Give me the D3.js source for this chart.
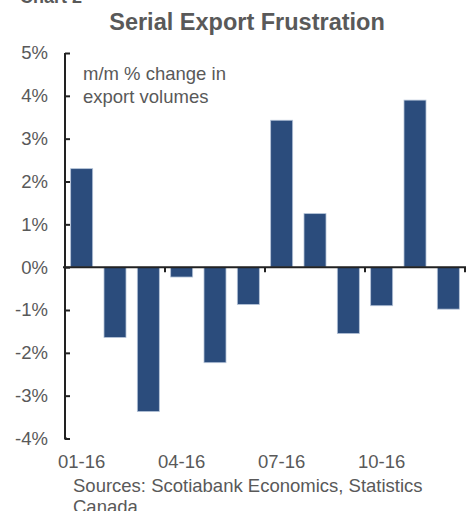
<!DOCTYPE html>
<html>
<head>
<meta charset="utf-8">
<script src="https://cdn.jsdelivr.net/npm/d3@7"></script>
<style>
  body { margin: 0; background: #fff; }
  text { font-family: "Liberation Sans", Arial, sans-serif; fill: #595959; }
</style>
</head>
<body>
<svg width="473" height="511"></svg>
<script>
// monthly data, 2016
var months = ["01-16","02-16","03-16","04-16","05-16","06-16","07-16","08-16","09-16","10-16","11-16","12-16"];
var values = [2.30, -1.64, -3.37, -0.23, -2.23, -0.87, 3.43, 1.25, -1.55, -0.90, 3.90, -0.98];
var yTicks = [-4, -3, -2, -1, 0, 1, 2, 3, 4, 5];
var xLabels = ["01-16", "04-16", "07-16", "10-16"];

var svg = d3.select("svg"),
    margin = {top: 53, right: 8, bottom: 73, left: 65},
    width = 465 - margin.left,
    height = 438.5 - margin.top;

var x = d3.scaleBand().domain(months).range([0, width]).paddingInner(0.34).paddingOuter(0.17),
    y = d3.scaleLinear().domain([-4, 5]).range([height, 0]);

var g = svg.append("g")
    .attr("transform", "translate(" + margin.left + "," + margin.top + ")");

// bars
g.selectAll(".bar")
  .data(values)
  .enter().append("rect")
    .attr("class", "bar")
    .attr("x", function(d, i) { return x(months[i]); })
    .attr("width", x.bandwidth())
    .attr("y", function(d) { return y(Math.max(0, d)); })
    .attr("height", function(d) { return Math.abs(y(d) - y(0)); })
    .style("fill", "#2b4c7c")
    .style("stroke", "#b4c3d8")
    .style("stroke-width", 0.8);

// y axis, ticks inside
var yAxis = g.append("g")
    .call(d3.axisRight(y).tickValues(yTicks).tickSize(5).tickFormat(""));
yAxis.select(".domain").attr("d", "M0," + y(5) + "V" + y(-4) + "h2").style("stroke", "#222").style("stroke-width", 2);
yAxis.selectAll(".tick line").style("stroke", "#222").style("stroke-width", 2);

g.selectAll(".ylab")
  .data(yTicks)
  .enter().append("text")
    .attr("class", "ylab")
    .attr("x", -17)
    .attr("y", function(d) { return y(d); })
    .attr("dy", "0.35em")
    .attr("text-anchor", "end")
    .style("font-size", "18.5px")
    .text(function(d) { return d + "%"; });

// x axis at zero, ticks at quarter boundaries
var boundaries = [0, 3, 6, 9, 12].map(function(i) { return i * x.step(); });
g.append("line")
    .attr("x1", -2).attr("x2", width + 1)
    .attr("y1", y(0)).attr("y2", y(0))
    .style("stroke", "#222").style("stroke-width", 2);
g.selectAll(".xtick")
  .data(boundaries.slice(1))
  .enter().append("line")
    .attr("x1", function(d) { return d; }).attr("x2", function(d) { return d; })
    .attr("y1", y(0)).attr("y2", y(0) + 5)
    .style("stroke", "#222").style("stroke-width", 2);

g.selectAll(".xlab")
  .data(xLabels)
  .enter().append("text")
    .attr("class", "xlab")
    .attr("x", function(d) { return x(d) + x.bandwidth() / 2; })
    .attr("y", height + 23.5)
    .attr("dy", "0.35em")
    .attr("text-anchor", "middle")
    .style("font-size", "18.5px")
    .text(function(d) { return d; });

// titles and notes
svg.append("text")
    .attr("x", 20).attr("y", 3)
    .style("font-size", "18px").style("font-weight", "bold")
    .text("Chart 2");
svg.append("text")
    .attr("x", 247).attr("y", 30)
    .attr("text-anchor", "middle")
    .style("font-size", "23.5px").style("font-weight", "bold")
    .text("Serial Export Frustration");

var note = svg.append("text").style("font-size", "18.5px");
note.append("tspan").attr("x", 83).attr("y", 80).text("m/m % change in");
note.append("tspan").attr("x", 83).attr("y", 103).text("export volumes");

var src = svg.append("text").style("font-size", "18.5px");
src.append("tspan").attr("x", 73).attr("y", 492).text("Sources: Scotiabank Economics, Statistics");
src.append("tspan").attr("x", 73).attr("y", 512.5).text("Canada.");
</script>
</body>
</html>
